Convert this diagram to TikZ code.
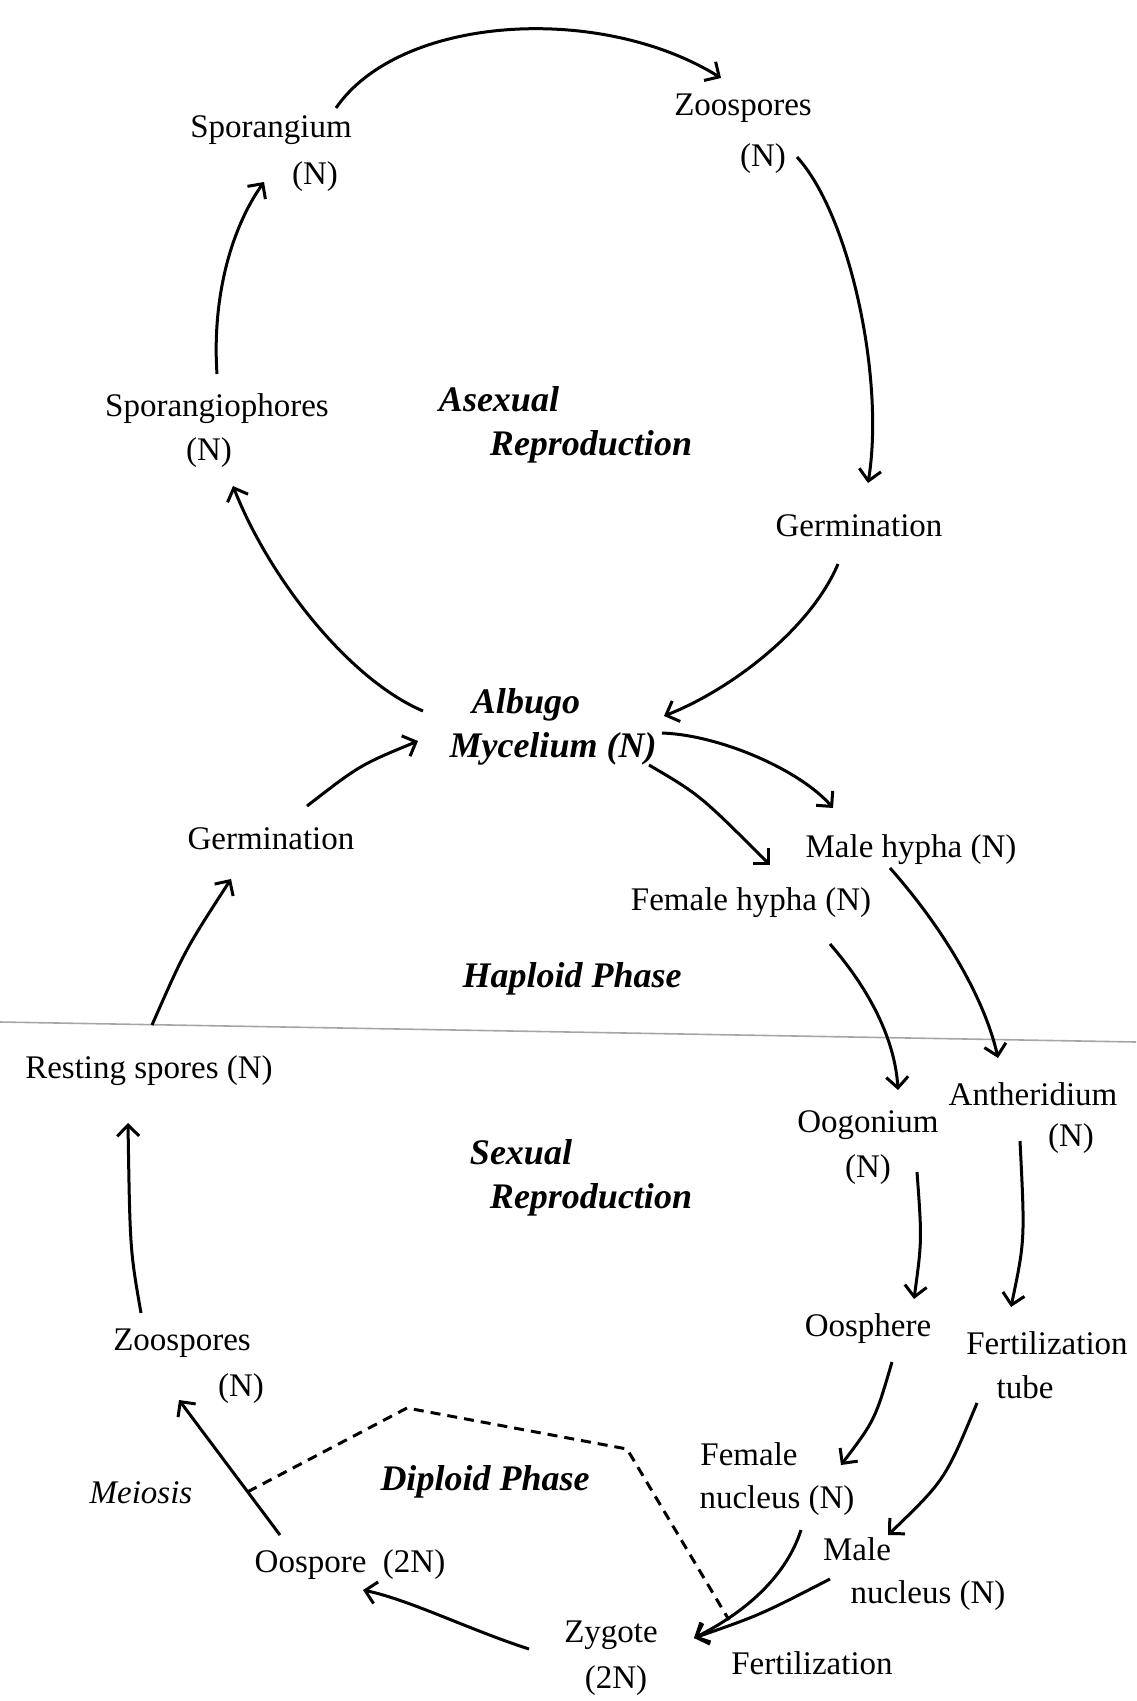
\documentclass[tikz,border=0pt]{standalone}
\usepackage{fontspec}
\setmainfont{Liberation Serif}
\usetikzlibrary{arrows.meta,calc}
\begin{document}
\begin{tikzpicture}[x=1pt,y=-1pt,
  lbl/.style={font=\fontsize{33}{36}\selectfont, inner sep=0pt},
  ph/.style={font=\fontsize{36}{40}\selectfont\bfseries\itshape, inner sep=0pt},
  arr/.style={line width=3pt, -{Straight Barb[length=11pt,width=22pt]}},
  dsh/.style={line width=3pt, dash pattern=on 10pt off 7pt},
  rule/.style={line width=1.6pt, gray!70}]
\useasboundingbox (0,0) rectangle (1136,1701);
% nodes
\node[lbl] (spor)  at (271,130) {Sporangium};
\node[lbl] (sporN) at (315,177) {(N)};
\node[lbl] (zoo)   at (743,108) {Zoospores};
\node[lbl] (zooN)  at (763,159) {(N)};
\node[lbl] (sph)   at (217,409) {Sporangiophores};
\node[lbl] (sphN)  at (209,453) {(N)};
\node[ph]  (asex)  at (499,399) {Asexual};
\node[ph]  (asex2) at (591,447) {Reproduction};
\node[lbl] (germA) at (859,526) {Germination};
\node[ph]  (alb)   at (526,705) {Albugo};
\node[ph]  (myc)   at (553,749) {Mycelium (N)};
\node[lbl] (germB) at (271,839) {Germination};
\node[lbl] (male)  at (911,850) {Male hypha (N)};
\node[lbl] (fem)   at (751,903) {Female hypha (N)};
\node[ph]  (hap)   at (572,979) {Haploid Phase};
\node[lbl] (rest)  at (149,1071) {Resting spores (N)};
\node[ph]  (sex)   at (521,1152) {Sexual};
\node[ph]  (sex2)  at (591,1200) {Reproduction};
\node[lbl] (oog)   at (868,1125) {Oogonium};
\node[lbl] (oogN)  at (868,1170) {(N)};
\node[lbl] (anth)  at (1033,1094) {Antheridium};
\node[lbl] (anthN) at (1071,1139) {(N)};
\node[lbl] (zooB)  at (182,1343) {Zoospores};
\node[lbl] (zooBN) at (241,1389) {(N)};
\node[lbl] (oosph) at (868,1329) {Oosphere};
\node[lbl] (fert)  at (1047,1343) {Fertilization};
\node[lbl] (tube)  at (1025,1387) {tube};
\node[lbl] (femn)  at (749,1454) {Female};
\node[lbl] (femnn) at (777,1501) {nucleus (N)};
\node[lbl,font=\fontsize{33}{36}\selectfont\itshape] (meio) at (141,1493) {Meiosis};
\node[ph]  (dip)   at (485,1482) {Diploid Phase};
\node[lbl] (malen) at (857,1549) {Male};
\node[lbl] (malenn) at (928,1596) {nucleus (N)};
\node[lbl] (oosp)  at (350,1565) {Oospore\ \ (2N)};
\node[lbl] (zyg)   at (611,1635) {Zygote};
\node[lbl] (zygN)  at (616,1681) {(2N)};
\node[lbl] (fertz) at (812,1663) {Fertilization};
% dividing rule
\coordinate (hl1) at (0,1022);
\coordinate (hl2) at (1136,1042);
\draw[rule] (hl1) -- (hl2);
% asexual cycle
\draw[arr] ($(spor)+(65,-22)$) .. controls (400,15) and (600,3) .. ($(zoo)+(-22,-30)$);
\draw[arr] ($(zooN)+(34,-2)$) .. controls (850,215) and (885,380) .. ($(germA)+(9,-43)$);
\draw[arr] ($(germA)+(-21,38)$) .. controls (810,630) and (730,690) .. ($(myc)+(111,-33)$);
\draw[arr] ($(alb)+(-103,6)$) .. controls (350,680) and (270,580) .. ($(sphN)+(24,33)$);
\draw[arr] ($(sph)+(0,-35)$) .. controls (212,300) and (230,230) .. ($(spor)+(-7,52)$);
% sexual cycle
\draw[arr] ($(germB)+(36,-33)$) .. controls (360,765) .. ($(myc)+(-135,-8)$);
\draw[arr] ($(myc)+(109,-16)$) .. controls (720,735) and (800,770) .. ($(male)+(-78,-42)$);
\draw[arr] ($(myc)+(96,16)$) .. controls (700,795) .. ($(fem)+(19,-38)$);
\draw[arr] ($(male)+(-21,18)$) .. controls (945,930) and (985,1000) .. ($(anth)+(-35,-36)$);
\draw[arr] ($(fem)+(79,41)$) .. controls (870,990) and (895,1040) .. ($(oog)+(30,-35)$);
\draw[arr] ($(zooB)+(-41,-30)$) .. controls (130,1250) .. ($(rest)+(-21,52)$);
\draw[arr] ($(rest)+(3,-46)$) .. controls (185,950) .. ($(germB)+(-40,40)$);
\draw[arr] ($(oogN)+(49,2)$) .. controls (922,1240) .. ($(oosph)+(46,-30)$);
\draw[arr] ($(anthN)+(-51,2)$) .. controls (1025,1240) .. ($(fert)+(-36,-36)$);
\draw[arr] ($(oosph)+(24,33)$) .. controls (875,1420) .. ($(femn)+(92,11)$);
\draw[arr] ($(tube)+(-48,16)$) .. controls (945,1480) .. ($(malen)+(31,-14)$);
\draw[arr] ($(femnn)+(24,29)$) .. controls (785,1580) and (740,1615) .. ($(zyg)+(83,3)$);
\draw[arr] ($(malen)+(-27,30)$) .. controls (760,1615) .. ($(zyg)+(83,3)$);
\draw[arr] ($(zyg)+(-82,14)$) .. controls (470,1630) and (410,1600) .. ($(oosp)+(13,25)$);
\draw[arr] ($(oosp)+(-70,-30)$) -- coordinate[pos=0.32] (dstart) ($(zooB)+(-3,57)$);
% diploid boundary
\coordinate (d1) at (407,1408);
\coordinate (d2) at (627,1449);
\draw[dsh] (dstart) -- (d1) -- (d2) -- ($(zyg)+(118,-15)$);
\end{tikzpicture}
\end{document}
